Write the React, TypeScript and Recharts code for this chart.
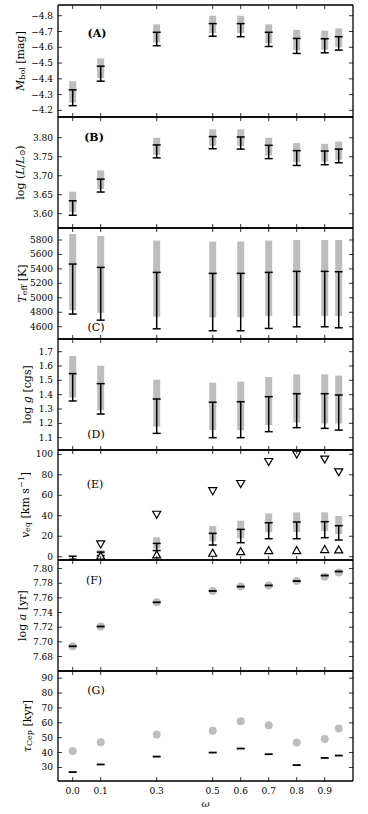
import React from 'react';
import { ComposedChart, Scatter, ErrorBar, XAxis, YAxis } from 'recharts';

// ---------- data ----------
const omega = [0.0, 0.1, 0.3, 0.5, 0.6, 0.7, 0.8, 0.9, 0.95];
const xTicks = [0, 0.1, 0.3, 0.5, 0.6, 0.7, 0.8, 0.9];

// (A) bolometric magnitude
const mbolBlackLo = [-4.33, -4.48, -4.695, -4.75, -4.75, -4.695, -4.656, -4.654, -4.667];
const mbolBlackHi = [-4.23, -4.385, -4.61, -4.67, -4.667, -4.605, -4.561, -4.565, -4.582];
const mbolGreyLo = [-4.385, -4.53, -4.745, -4.8, -4.8, -4.745, -4.71, -4.705, -4.72];
const mbolGreyHi = [-4.25, -4.405, -4.63, -4.69, -4.69, -4.625, -4.58, -4.585, -4.6];
const mbolTicks = [-4.8, -4.7, -4.6, -4.5, -4.4, -4.3, -4.2];

// (B) luminosity
const logLBlackLo = [3.596, 3.657, 3.747, 3.771, 3.77, 3.745, 3.727, 3.729, 3.734];
const logLBlackHi = [3.634, 3.691, 3.781, 3.803, 3.802, 3.78, 3.766, 3.765, 3.77];
const logLGreyLo = [3.604, 3.665, 3.755, 3.779, 3.778, 3.753, 3.735, 3.737, 3.742];
const logLGreyHi = [3.658, 3.714, 3.8, 3.822, 3.822, 3.8, 3.786, 3.784, 3.79];
const logLTicks = [3.6, 3.65, 3.7, 3.75, 3.8];

// (C) effective temperature
const teffBlackLo = [4775, 4691, 4571, 4544, 4544, 4576, 4599, 4599, 4585];
const teffBlackHi = [5467, 5421, 5352, 5338, 5338, 5352, 5366, 5366, 5361];
const teffGreyLo = [4830, 4793, 4738, 4728, 4728, 4747, 4747, 4747, 4747];
const teffGreyHi = [5883, 5855, 5791, 5777, 5777, 5791, 5800, 5800, 5800];
const teffTicks = [4600, 4800, 5000, 5200, 5400, 5600, 5800];

// (D) surface gravity
const loggBlackLo = [1.356, 1.265, 1.13, 1.1, 1.1, 1.142, 1.17, 1.165, 1.153];
const loggBlackHi = [1.547, 1.477, 1.37, 1.347, 1.351, 1.386, 1.407, 1.407, 1.398];
const loggGreyLo = [1.38, 1.29, 1.177, 1.153, 1.153, 1.188, 1.207, 1.2, 1.198];
const loggGreyHi = [1.67, 1.602, 1.505, 1.484, 1.491, 1.523, 1.542, 1.542, 1.533];
const loggTicks = [1.1, 1.2, 1.3, 1.4, 1.5, 1.6, 1.7];

// (E) equatorial velocity
const veqBlackLo = [-2.5, 1, 6, 11.4, 13.7, 17.6, 17.6, 18.6, 16.3];
const veqBlackHi = [0.5, 4.5, 13, 22.8, 26.7, 33.2, 33.9, 34.2, 30.3];
const veqGreyLo: (number | null)[] = [null, 2, 8, 15, 18, 24, 24, 25, 22];
const veqGreyHi: (number | null)[] = [null, 6.5, 19, 30, 35.2, 42.3, 43.3, 43.3, 39.7];
const veqUpper: (number | null)[] = [null, 12, 41, 64, 71, 92.5, 99.7, 94.8, 82.4];
const veqLower: (number | null)[] = [null, 1, 2.3, 3.9, 5.5, 6.5, 6.5, 7.5, 7.2];
const veqTicks = [0, 20, 40, 60, 80, 100];

// (F) age
const ageGrey = [7.694, 7.721, 7.754, 7.7695, 7.7755, 7.777, 7.783, 7.789, 7.7945];
const ageBlack = [7.694, 7.721, 7.754, 7.7695, 7.7755, 7.777, 7.783, 7.7905, 7.796];
const ageTicks = [7.68, 7.7, 7.72, 7.74, 7.76, 7.78, 7.8];

// (G) Cepheid crossing time
const tauGrey = [41.1, 46.9, 52.2, 54.7, 61.1, 58.4, 46.7, 49.1, 56.2];
const tauBlack = [26.9, 32, 37.3, 40, 42.7, 38.9, 31.6, 36.4, 38];
const tauTicks = [30, 40, 50, 60, 70, 80, 90];

// ---------- helpers ----------
type Row = { x: number; y: number; err?: [number, number] };

const rangeRows = (lo: (number | null)[], hi: (number | null)[]): Row[] => {
  const out: Row[] = [];
  omega.forEach((x, i) => {
    const a = lo[i];
    const b = hi[i];
    if (a == null || b == null) return;
    const mid = (a + b) / 2;
    out.push({ x, y: mid, err: [mid - a, b - mid] });
  });
  return out;
};

const pointRows = (v: (number | null)[]): Row[] => {
  const out: Row[] = [];
  omega.forEach((x, i) => {
    const y = v[i];
    if (y == null) return;
    out.push({ x, y });
  });
  return out;
};

const FONT = '"DejaVu Serif", "Liberation Serif", serif';
const GREY = '#bdbdbd';
const X_DOMAIN: [number, number] = [-0.0525, 1.001];
const AXIS_LINE = { stroke: '#000', strokeWidth: 1.3 };
const TICK_LEN = 4;

const minus = (s: string) => s.replace('-', '\u2212');

const makeLeftTick = (fmt: (v: number) => string) => (p: any) => (
  <g>
    <line x1={p.x} x2={p.x + TICK_LEN} y1={p.y} y2={p.y} stroke="#000" strokeWidth={0.8} />
    <text
      x={p.x - 5}
      y={p.y}
      textAnchor="end"
      dominantBaseline="central"
      fontFamily={FONT}
      fontSize={9}
      fill="#000"
    >
      {fmt(p.payload.value)}
    </text>
  </g>
);

const RightTick = (p: any) => (
  <line x1={p.x - TICK_LEN} x2={p.x} y1={p.y} y2={p.y} stroke="#000" strokeWidth={0.8} />
);

const TopTick = (p: any) => (
  <line x1={p.x} x2={p.x} y1={p.y} y2={p.y + TICK_LEN} stroke="#000" strokeWidth={0.8} />
);

const BottomTickPlain = (p: any) => (
  <line x1={p.x} x2={p.x} y1={p.y - TICK_LEN} y2={p.y} stroke="#000" strokeWidth={0.8} />
);

const BottomTickLabeled = (p: any) => (
  <g>
    <line x1={p.x} x2={p.x} y1={p.y - TICK_LEN} y2={p.y} stroke="#000" strokeWidth={0.8} />
    <text
      x={p.x}
      y={p.y + 10}
      textAnchor="middle"
      dominantBaseline="central"
      fontFamily={FONT}
      fontSize={9}
      fill="#000"
    >
      {p.payload.value.toFixed(1)}
    </text>
  </g>
);

const Hidden = () => <g />;

const DownTri = (p: any) => (
  <polygon
    points={`${p.cx - 4},${p.cy - 3.5} ${p.cx + 4},${p.cy - 3.5} ${p.cx},${p.cy + 3.5}`}
    fill="#fff"
    stroke="#000"
    strokeWidth={1.2}
  />
);

const UpTri = (p: any) => (
  <polygon
    points={`${p.cx - 4},${p.cy + 3.5} ${p.cx + 4},${p.cy + 3.5} ${p.cx},${p.cy - 3.5}`}
    fill="#fff"
    stroke="#000"
    strokeWidth={1.2}
  />
);

const GreyDot = (p: any) => <circle cx={p.cx} cy={p.cy} r={4} fill={GREY} />;

const BlackDash = (p: any) => (
  <line x1={p.cx - 4} x2={p.cx + 4} y1={p.cy} y2={p.cy} stroke="#000" strokeWidth={1.8} />
);

const greyBars = (rows: Row[]) => (
  <Scatter data={rows} dataKey="y" shape={Hidden} isAnimationActive={false}>
    <ErrorBar dataKey="err" direction="y" width={0} stroke={GREY} strokeWidth={7} isAnimationActive={false} />
  </Scatter>
);

const blackBars = (rows: Row[]) => (
  <Scatter data={rows} dataKey="y" shape={Hidden} isAnimationActive={false}>
    <ErrorBar dataKey="err" direction="y" width={4} stroke="#000" strokeWidth={1.5} isAnimationActive={false} />
  </Scatter>
);

type PanelProps = {
  top: number;
  bottom: number;
  domain: [number, number];
  ticks: number[];
  fmt: (v: number) => string;
  reversed?: boolean;
  last?: boolean;
  children?: React.ReactNode;
};

function Panel({ top, bottom, domain, ticks, fmt, reversed, last, children }: PanelProps) {
  const plotH = bottom - top;
  const bottomH = last ? 32 : 1;
  return (
    <div style={{ position: 'absolute', left: 0, top: top - 1 }}>
      <ComposedChart
        width={368}
        height={plotH + 1 + bottomH}
        margin={{ top: 0, right: 0, bottom: 0, left: 0 }}
      >
        <XAxis
          xAxisId="top"
          orientation="top"
          type="number"
          dataKey="x"
          domain={X_DOMAIN}
          ticks={xTicks}
          allowDataOverflow
          height={1}
          interval={0}
          tickSize={0}
          tickMargin={0}
          tickLine={false}
          axisLine={AXIS_LINE}
          tick={TopTick}
        />
        <XAxis
          type="number"
          dataKey="x"
          domain={X_DOMAIN}
          ticks={xTicks}
          allowDataOverflow
          height={bottomH}
          interval={0}
          tickSize={0}
          tickMargin={0}
          tickLine={false}
          axisLine={AXIS_LINE}
          tick={last ? BottomTickLabeled : BottomTickPlain}
        />
        <YAxis
          type="number"
          domain={domain}
          ticks={ticks}
          reversed={reversed}
          allowDataOverflow
          width={58}
          interval={0}
          tickSize={0}
          tickMargin={0}
          tickLine={false}
          axisLine={AXIS_LINE}
          tick={makeLeftTick(fmt)}
        />
        <YAxis
          yAxisId="right"
          orientation="right"
          type="number"
          domain={domain}
          ticks={ticks}
          reversed={reversed}
          allowDataOverflow
          width={15}
          interval={0}
          tickSize={0}
          tickMargin={0}
          tickLine={false}
          axisLine={AXIS_LINE}
          tick={RightTick}
        />
        {children}
      </ComposedChart>
    </div>
  );
}

const B = [5, 117, 228, 339, 450, 560, 671, 781];

const SUB = { fontSize: 8 };

export default function App() {
  return (
    <div style={{ position: 'absolute', left: 0, top: 0, width: 368, height: 814, background: '#fff' }}>
      <Panel top={B[0]} bottom={B[1]} domain={[-4.868, -4.158]} ticks={mbolTicks} fmt={(v) => minus(v.toFixed(1))} reversed>
        {greyBars(rangeRows(mbolGreyLo, mbolGreyHi))}
        {blackBars(rangeRows(mbolBlackLo, mbolBlackHi))}
      </Panel>
      <Panel top={B[1]} bottom={B[2]} domain={[3.5624, 3.8545]} ticks={logLTicks} fmt={(v) => v.toFixed(2)}>
        {greyBars(rangeRows(logLGreyLo, logLGreyHi))}
        {blackBars(rangeRows(logLBlackLo, logLBlackHi))}
      </Panel>
      <Panel top={B[2]} bottom={B[3]} domain={[4430, 5966]} ticks={teffTicks} fmt={(v) => String(v)}>
        {greyBars(rangeRows(teffGreyLo, teffGreyHi))}
        {blackBars(rangeRows(teffBlackLo, teffBlackHi))}
      </Panel>
      <Panel top={B[3]} bottom={B[4]} domain={[1.014, 1.7886]} ticks={loggTicks} fmt={(v) => v.toFixed(1)}>
        {greyBars(rangeRows(loggGreyLo, loggGreyHi))}
        {blackBars(rangeRows(loggBlackLo, loggBlackHi))}
      </Panel>
      <Panel top={B[4]} bottom={B[5]} domain={[-3.2, 104.2]} ticks={veqTicks} fmt={(v) => String(v)}>
        {greyBars(rangeRows(veqGreyLo, veqGreyHi))}
        {blackBars(rangeRows(veqBlackLo, veqBlackHi))}
        <Scatter data={pointRows(veqUpper)} dataKey="y" shape={DownTri} isAnimationActive={false} />
        <Scatter data={pointRows(veqLower)} dataKey="y" shape={UpTri} isAnimationActive={false} />
      </Panel>
      <Panel top={B[5]} bottom={B[6]} domain={[7.6603, 7.8117]} ticks={ageTicks} fmt={(v) => v.toFixed(2)}>
        <Scatter data={pointRows(ageGrey)} dataKey="y" shape={GreyDot} isAnimationActive={false} />
        <Scatter data={pointRows(ageBlack)} dataKey="y" shape={BlackDash} isAnimationActive={false} />
      </Panel>
      <Panel top={B[6]} bottom={B[7]} domain={[20.9, 94.8]} ticks={tauTicks} fmt={(v) => String(v)} last>
        <Scatter data={pointRows(tauGrey)} dataKey="y" shape={GreyDot} isAnimationActive={false} />
        <Scatter data={pointRows(tauBlack)} dataKey="y" shape={BlackDash} isAnimationActive={false} />
      </Panel>

      <svg
        width={368}
        height={814}
        style={{ position: 'absolute', left: 0, top: 0, pointerEvents: 'none' }}
        fontFamily={FONT}
        fill="#000"
      >
        {/* axis labels */}
        <text transform="translate(20,61) rotate(-90)" textAnchor="middle" dominantBaseline="central" fontSize={11}>
          <tspan fontStyle="italic">M</tspan>
          <tspan {...SUB} dy={2}>bol</tspan>
          <tspan dy={-2}> [mag]</tspan>
        </text>
        <text transform="translate(20,172.5) rotate(-90)" textAnchor="middle" dominantBaseline="central" fontSize={11}>
          <tspan>log (</tspan>
          <tspan fontStyle="italic">L</tspan>
          <tspan>/</tspan>
          <tspan fontStyle="italic">L</tspan>
          <tspan {...SUB} dy={2}>⊙</tspan>
          <tspan dy={-2}>)</tspan>
        </text>
        <text transform="translate(22,283.5) rotate(-90)" textAnchor="middle" dominantBaseline="central" fontSize={11}>
          <tspan fontStyle="italic">T</tspan>
          <tspan {...SUB} dy={2}>eff</tspan>
          <tspan dy={-2}> [K]</tspan>
        </text>
        <text transform="translate(27,394.5) rotate(-90)" textAnchor="middle" dominantBaseline="central" fontSize={11}>
          <tspan>log </tspan>
          <tspan fontStyle="italic">g</tspan>
          <tspan> [cgs]</tspan>
        </text>
        <text transform="translate(25,505) rotate(-90)" textAnchor="middle" dominantBaseline="central" fontSize={11}>
          <tspan fontStyle="italic">v</tspan>
          <tspan {...SUB} dy={2}>eq</tspan>
          <tspan dy={-2}> [km s</tspan>
          <tspan {...SUB} dy={-4}>−1</tspan>
          <tspan dy={4}>]</tspan>
        </text>
        <text transform="translate(22,615.5) rotate(-90)" textAnchor="middle" dominantBaseline="central" fontSize={11}>
          <tspan>log </tspan>
          <tspan fontStyle="italic">a</tspan>
          <tspan> [yr]</tspan>
        </text>
        <text transform="translate(27,726) rotate(-90)" textAnchor="middle" dominantBaseline="central" fontSize={11}>
          <tspan fontStyle="italic">τ</tspan>
          <tspan {...SUB} dy={2}>Cep</tspan>
          <tspan dy={-2}> [kyr]</tspan>
        </text>
        <text x={205.5} y={803} textAnchor="middle" dominantBaseline="central" fontSize={10} fontStyle="italic">
          ω
        </text>

        {/* panel tags */}
        <text x={97} y={33} textAnchor="middle" dominantBaseline="central" fontSize={11} fontWeight="bold">(A)</text>
        <text x={94} y={137.5} textAnchor="middle" dominantBaseline="central" fontSize={11} fontWeight="bold">(B)</text>
        <text x={96} y={327.7} textAnchor="middle" dominantBaseline="central" fontSize={11}>(C)</text>
        <text x={96} y={434} textAnchor="middle" dominantBaseline="central" fontSize={11}>(D)</text>
        <text x={95} y={484} textAnchor="middle" dominantBaseline="central" fontSize={11}>(E)</text>
        <text x={94} y={580} textAnchor="middle" dominantBaseline="central" fontSize={11}>(F)</text>
        <text x={96} y={690.7} textAnchor="middle" dominantBaseline="central" fontSize={11}>(G)</text>
      </svg>
    </div>
  );
}
